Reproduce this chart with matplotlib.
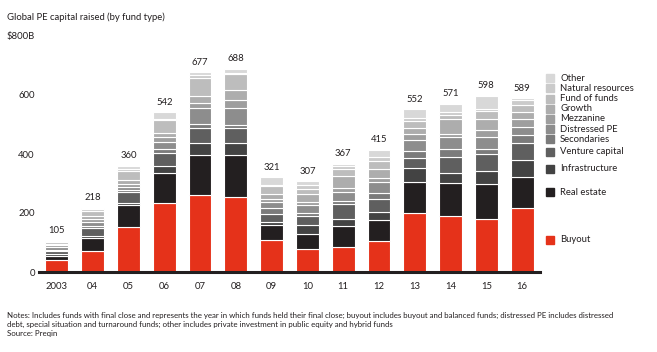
import matplotlib
matplotlib.use("Agg")
import matplotlib.pyplot as plt
import matplotlib.transforms as mtransforms
import numpy as np

plt.rcParams['font.family'] = ['Lato', 'DejaVu Sans']

years = ['2003', '04', '05', '06', '07', '08', '09', '10', '11', '12', '13', '14', '15', '16']
fund_types = ['Buyout', 'Real estate', 'Infrastructure', 'Venture capital', 'Secondaries',
              'Distressed PE', 'Mezzanine', 'Growth', 'Fund of funds', 'Natural resources', 'Other']

buyout = [40, 70, 154, 235, 261, 255, 110, 79, 86, 105, 201, 190, 181, 218]
real_estate = [15, 44, 73, 102, 136, 142, 48, 49, 70, 70, 105, 111, 119, 104]
infrastructure = [5, 8, 8, 22, 41, 39, 12, 30, 25, 28, 48, 34, 42, 57]
venture_capital = [12, 26, 37, 45, 50, 53, 28, 31, 49, 43, 34, 56, 57, 58]
secondaries = [4, 8, 6, 14, 14, 9, 20, 11, 11, 21, 22, 27, 19, 26]
distressed_pe = [8, 14, 10, 22, 54, 57, 19, 26, 30, 38, 38, 41, 40, 29]
mezzanine = [6, 10, 10, 19, 17, 28, 12, 10, 15, 15, 19, 8, 22, 25]
growth = [5, 10, 14, 11, 24, 34, 17, 30, 39, 30, 22, 51, 37, 26]
fund_of_funds = [6, 18, 30, 45, 61, 53, 24, 17, 23, 26, 24, 13, 29, 22]
natural_resources = [2, 5, 8, 5, 10, 5, 6, 11, 12, 14, 10, 12, 8, 17]
other = [2, 5, 10, 22, 9, 13, 25, 13, 7, 25, 29, 28, 44, 7]
totals = [105, 218, 360, 542, 677, 688, 321, 307, 367, 415, 552, 571, 598, 589]

series = [buyout, real_estate, infrastructure, venture_capital, secondaries, distressed_pe,
          mezzanine, growth, fund_of_funds, natural_resources, other]
colors = ['#e5321a', '#231f20', '#434343', '#5f5f5f', '#7b7b7b', '#8d8d8d',
          '#9e9e9e', '#adadad', '#bdbdbd', '#cbcbcb', '#d8d8d8']

text_color = '#231f20'

fig = plt.figure(figsize=(6.57, 3.52), dpi=100)
ax = fig.add_axes([39 / 657, 80 / 352, 501 / 657, 236 / 352])

x = np.arange(len(years))
bottom = np.zeros(len(years))
for vals, c in zip(series, colors):
    ax.bar(x, vals, width=0.64, bottom=bottom, color=c, edgecolor='white', linewidth=0.8)
    bottom += np.array(vals)

for xi, t in zip(x, totals):
    ax.annotate(str(t), (xi, t), xytext=(0, 4), textcoords='offset points',
                ha='center', va='bottom', fontsize=6.8, color=text_color)

ax.set_xlim(-0.5, len(years) - 0.5)
ax.set_ylim(0, 800)
ax.set_xticks(x)
ax.set_xticklabels(years)
ax.set_yticks([0, 200, 400, 600, 800])
ax.set_yticklabels(['0', '200', '400', '600', '$800B'])
ax.tick_params(axis='both', length=0, labelsize=6.8, colors=text_color)
ax.tick_params(axis='x', pad=7)
ax.tick_params(axis='y', pad=3)
for s in ['top', 'right', 'left']:
    ax.spines[s].set_visible(False)
ax.spines['bottom'].set_color(text_color)
ax.spines['bottom'].set_linewidth(2.2)

# legend labels placed beside the 2016 segments
last = np.array([s[-1] for s in series], dtype=float)
mids = np.cumsum(last) - last / 2
pos = []
for m in mids:
    if pos and m < pos[-1] + 34.5:
        m = pos[-1] + 34.5
    pos.append(m)
trans = mtransforms.blended_transform_factory(ax.transAxes, ax.transData)
for name, c, yv in zip(fund_types, colors, pos):
    ax.plot([1.0206], [yv], marker='s', markersize=6.3, color=c, transform=trans,
            clip_on=False, linestyle='none')
    ax.text(1.04, yv, name, transform=trans, ha='left', va='center',
            fontsize=6.8, color=text_color)

fig.text(7 / 657, 1 - 17 / 352, 'Global PE capital raised (by fund type)',
         ha='left', va='center', fontsize=6.8, color=text_color)

notes = ("Notes: Includes funds with final close and represents the year in which funds held their final close; "
         "buyout includes buyout and balanced funds; distressed PE includes distressed\n"
         "debt, special situation and turnaround funds; other includes private investment in public equity and hybrid funds\n"
         "Source: Preqin")
fig.text(7 / 657, 1 - 312 / 352, notes, ha='left', va='top', fontsize=5.65,
         color=text_color, linespacing=1.35)

fig.savefig('out.png', dpi=100)
